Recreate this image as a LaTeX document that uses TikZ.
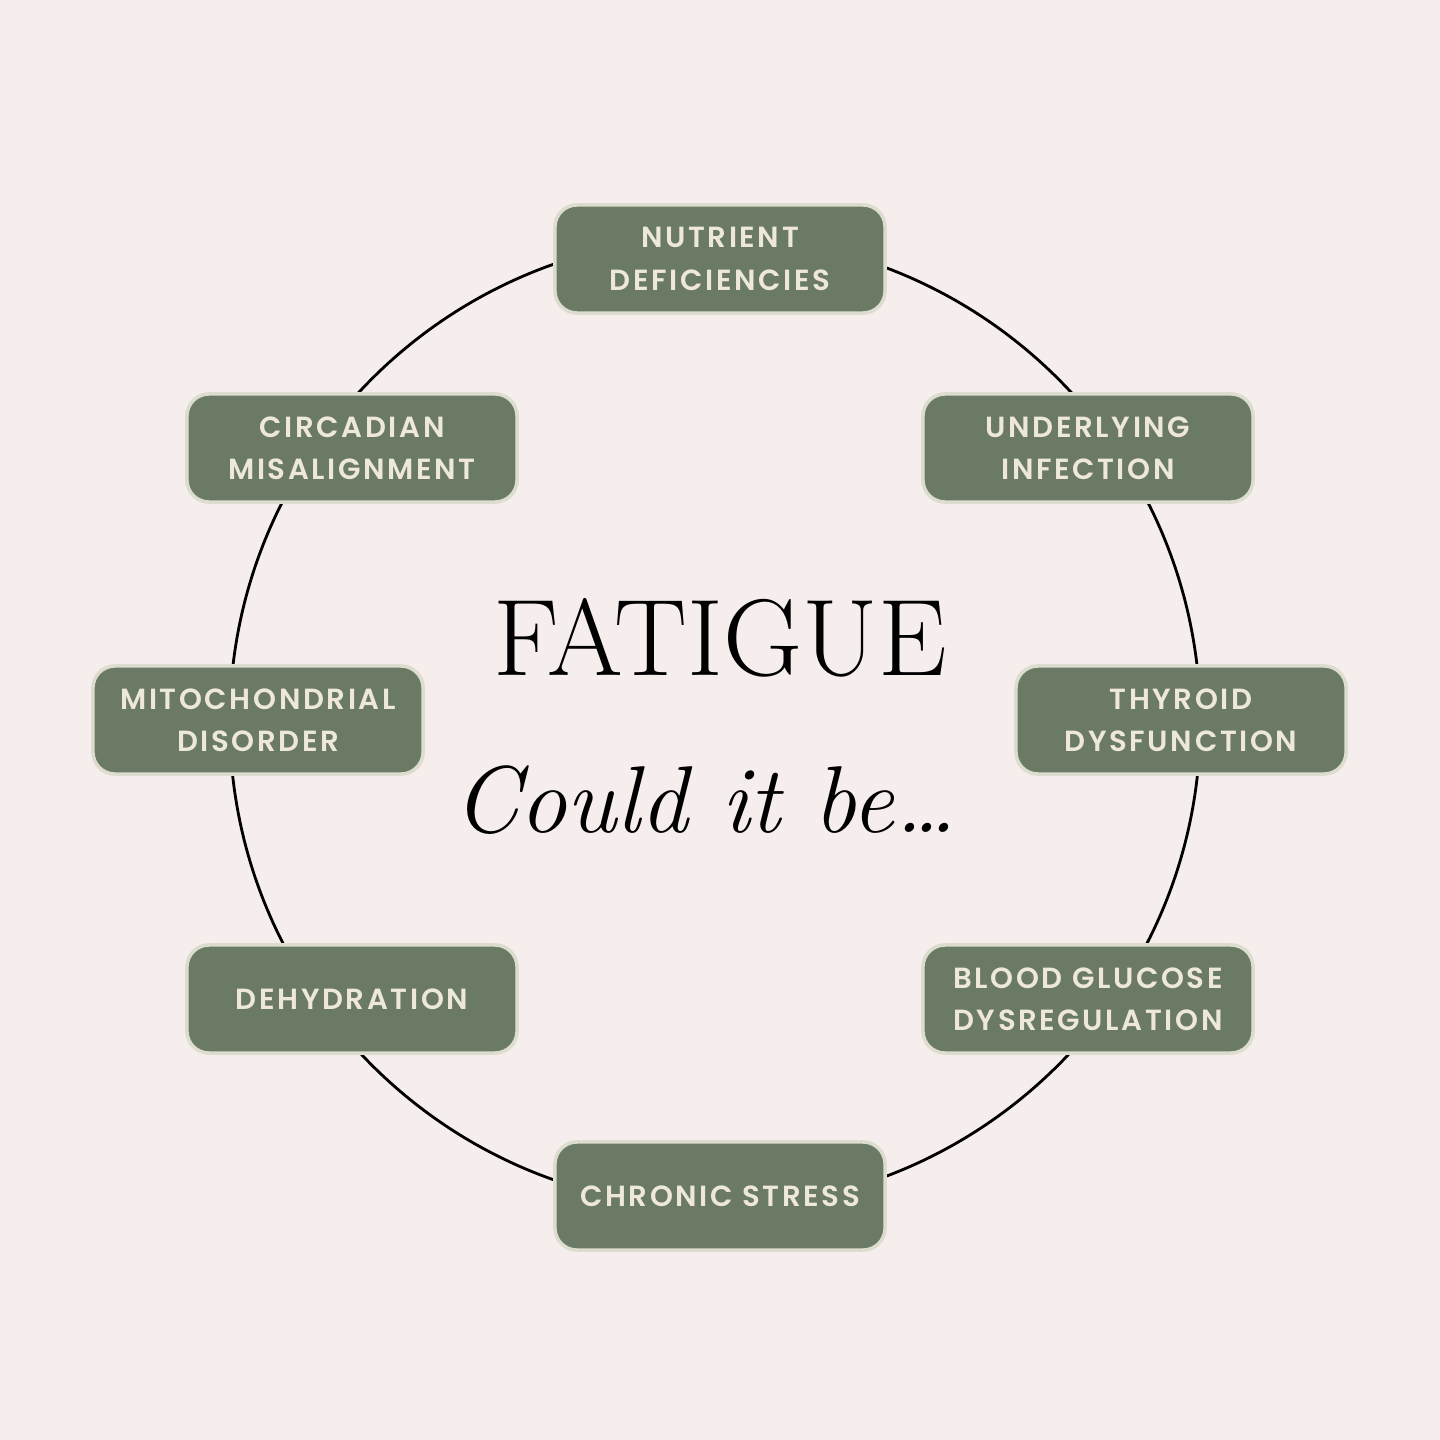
\documentclass[tikz,border=0pt]{standalone}
\usepackage{fontspec}
\newfontfamily\boxfont[LetterSpace=9]{Poppins SemiBold}
\definecolor{bg}{HTML}{F6EDED}
\definecolor{sage}{HTML}{6B7A64}
\definecolor{rim}{HTML}{DCDDCF}
\definecolor{cream}{HTML}{EEE8D9}
\tikzset{causebox/.style={draw=rim,line width=1pt,fill=sage,rounded corners=0.22cm,minimum width=3.3cm,minimum height=1.08cm,text=cream,align=center,font=\boxfont\fontsize{8.3}{12}\selectfont}}
\begin{document}
\begin{tikzpicture}[x=0.01cm,y=-0.01cm]
\fill[bg] (0,0) rectangle (1440,1440);
\useasboundingbox (0,0) rectangle (1440,1440);
\coordinate (c) at (715,722);
\draw[line width=0.8pt] (c) circle (4.85cm);
\node[causebox] (n1) at (720,259) {NUTRIENT\\DEFICIENCIES};
\node[causebox] (n2) at (1088,448) {UNDERLYING\\INFECTION};
\node[causebox] (n3) at (1181,720) {THYROID\\DYSFUNCTION};
\node[causebox] (n4) at (1088,999) {BLOOD GLUCOSE\\DYSREGULATION};
\node[causebox] (n5) at (720,1196) {CHRONIC STRESS};
\node[causebox] (n6) at (352,999) {DEHYDRATION};
\node[causebox] (n7) at (258,720) {MITOCHONDRIAL\\DISORDER};
\node[causebox] (n8) at (352,448) {CIRCADIAN\\MISALIGNMENT};
\node (t) at (720,638) {\fontsize{31}{31}\selectfont FATIGUE};
\node (s) at (705,800) {\fontsize{27}{27}\selectfont\itshape Could it be\ldots};
\end{tikzpicture}
\end{document}
